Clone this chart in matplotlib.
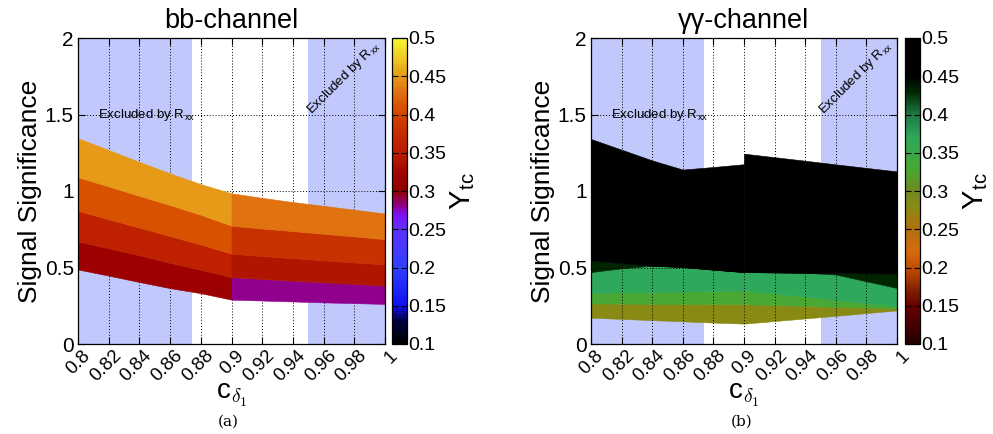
import numpy as np
import matplotlib
matplotlib.use('Agg')
import matplotlib.pyplot as plt
from matplotlib.colors import LinearSegmentedColormap, Normalize
from matplotlib.cm import ScalarMappable
from matplotlib.transforms import ScaledTranslation

plt.rcParams['font.family'] = ['Liberation Sans', 'DejaVu Sans']
plt.rcParams['mathtext.fontset'] = 'cm'

# ---- data ----
c_lo = [0.80, 0.82, 0.84, 0.86, 0.88, 0.90]
c_hi = [0.90, 0.92, 0.94, 0.96, 0.98, 1.00]

# bb-channel: significance boundaries between Y_tc bands
bb_lo_edges = [
    [0.487, 0.447, 0.405, 0.365, 0.332, 0.290],
    [0.670, 0.625, 0.580, 0.530, 0.485, 0.437],
    [0.870, 0.815, 0.760, 0.705, 0.650, 0.590],
    [1.090, 1.030, 0.968, 0.908, 0.845, 0.773],
    [1.345, 1.268, 1.190, 1.115, 1.045, 0.985],
]
bb_lo_ytc = [0.32, 0.36, 0.41, 0.45]
bb_hi_edges = [
    [0.290, 0.284, 0.278, 0.272, 0.267, 0.262],
    [0.437, 0.425, 0.414, 0.403, 0.392, 0.381],
    [0.590, 0.575, 0.561, 0.547, 0.533, 0.520],
    [0.773, 0.755, 0.738, 0.720, 0.703, 0.685],
    [0.985, 0.955, 0.928, 0.903, 0.878, 0.853],
]
bb_hi_ytc = [0.28, 0.34, 0.38, 0.43]

# gamma-gamma channel
gg_lo_edges = [
    [0.172, 0.164, 0.156, 0.148, 0.140, 0.133],
    [0.265, 0.264, 0.263, 0.262, 0.261, 0.260],
    [0.333, 0.337, 0.340, 0.343, 0.347, 0.350],
    [0.470, 0.495, 0.512, 0.503, 0.486, 0.470],
    [0.545, 0.528, 0.512, 0.503, 0.486, 0.470],
    [1.340, 1.270, 1.200, 1.140, 1.157, 1.175],
]
gg_hi_edges = [
    [0.133, 0.150, 0.167, 0.184, 0.202, 0.220],
    [0.260, 0.255, 0.249, 0.243, 0.238, 0.232],
    [0.350, 0.330, 0.310, 0.290, 0.268, 0.246],
    [0.470, 0.468, 0.466, 0.454, 0.410, 0.366],
    [0.470, 0.468, 0.466, 0.464, 0.462, 0.460],
    [1.244, 1.221, 1.198, 1.174, 1.151, 1.128],
]
gg_ytc = [0.28, 0.33, 0.37, 0.43, 0.48]

excl_left = (0.8, 0.874)
excl_right = (0.950, 1.0)

x_ticks = [0.8, 0.82, 0.84, 0.86, 0.88, 0.9, 0.92, 0.94, 0.96, 0.98, 1.0]
y_ticks = [0, 0.5, 1, 1.5, 2]
cb_ticks = [0.1, 0.15, 0.2, 0.25, 0.3, 0.35, 0.4, 0.45, 0.5]

# palettes
bb_nodes = [(0.10, '#000000'), (0.13, '#000040'), (0.15, '#1010f0'), (0.20, '#3040ff'),
            (0.25, '#6030ff'), (0.27, '#8010f0'), (0.28, '#900090'), (0.30, '#900000'),
            (0.32, '#9c0000'), (0.34, '#b01500'), (0.36, '#be2000'), (0.38, '#c83000'),
            (0.41, '#d85000'), (0.43, '#e07010'), (0.45, '#e69a18'), (0.50, '#f8f830')]
gg_nodes = [(0.10, '#200000'), (0.12, '#400000'), (0.15, '#680000'), (0.17, '#802000'),
            (0.19, '#b04000'), (0.22, '#d86a10'), (0.25, '#b07010'), (0.28, '#8a8a14'),
            (0.30, '#708a20'), (0.33, '#48a832'), (0.37, '#2ea85a'), (0.40, '#1e7a44'),
            (0.43, '#002800'), (0.45, '#000000'), (0.50, '#000000')]


def make_cmap(nodes, name):
    pos = [(v - 0.1) / 0.4 for v, _ in nodes]
    return LinearSegmentedColormap.from_list(name, list(zip(pos, [c for _, c in nodes])))


def fmt(v):
    return ('%g' % v)


def draw_panel(ax, cax, segments, cmap, title, grid_front):
    fig = ax.figure
    norm = Normalize(0.1, 0.5)
    ax.axvspan(*excl_left, color='#c0c8fc', lw=0, zorder=0)
    ax.axvspan(*excl_right, color='#c0c8fc', lw=0, zorder=0)
    for xs, edges, vals in segments:
        for i, v in enumerate(vals):
            col = cmap(norm(v))
            ax.fill_between(xs, edges[i], edges[i + 1], facecolor=col, edgecolor=col,
                            lw=0.4, zorder=2)
    gz = 3 if grid_front else 1
    for xv in x_ticks[1:-1]:
        ax.axvline(xv, color='k', ls=(0, (1, 2)), lw=0.7, zorder=gz)
    for yv in y_ticks[1:-1]:
        ax.axhline(yv, color='k', ls=(0, (1, 2)), lw=0.7, zorder=gz)

    ax.set_xlim(0.8, 1.0)
    ax.set_ylim(0, 2)
    ax.set_xticks(x_ticks)
    ax.set_xticklabels([])
    off = ScaledTranslation(16 / 100, -3 / 100, fig.dpi_scale_trans)
    for xv in x_ticks:
        ax.text(xv, 0, fmt(xv), rotation=45, ha='right', va='top', fontsize=13.5,
                transform=ax.get_xaxis_transform() + off)
    ax.set_yticks(y_ticks)
    ax.set_yticklabels([fmt(v) for v in y_ticks], fontsize=15)
    ax.tick_params(direction='in', top=True, right=True, length=5, width=0.8, pad=3)
    for s in ax.spines.values():
        s.set_linewidth(0.9)
        s.set_zorder(5)

    ax.set_title(title, fontsize=19.5, pad=7)
    ax.set_xlabel(r'c$_{\delta_1}$', fontsize=20, labelpad=24)
    ax.set_ylabel('Signal Significance', fontsize=19, labelpad=2)

    ax.text(0.8132, 1.477, r'Excluded by R$_\mathregular{xx}$', fontsize=9.5, zorder=4)
    ax.text(0.952, 1.50, r'Excluded by R$_\mathregular{xx}$', fontsize=9.5, rotation=45,
            rotation_mode='anchor', ha='left', va='baseline', zorder=4)

    cb = fig.colorbar(ScalarMappable(norm=norm, cmap=cmap), cax=cax)
    cb.set_ticks(cb_ticks)
    cb.set_ticklabels([fmt(v) for v in cb_ticks])
    cb.ax.tick_params(direction='in', length=4, width=0.8, labelsize=14, pad=1,
                      left=True, right=True)
    cb.outline.set_linewidth(0.9)
    cb.set_label(r'Y$_\mathregular{tc}$', fontsize=21, labelpad=1)


fig = plt.figure(figsize=(9.93, 4.34), dpi=100)
ax1 = fig.add_axes([78 / 993, 1 - 344 / 434, 307 / 993, 306 / 434])
cax1 = fig.add_axes([392 / 993, 1 - 344 / 434, 15 / 993, 306 / 434])
ax2 = fig.add_axes([591 / 993, 1 - 344 / 434, 306 / 993, 306 / 434])
cax2 = fig.add_axes([905 / 993, 1 - 344 / 434, 15 / 993, 306 / 434])

bb_cmap = make_cmap(bb_nodes, 'bb')
gg_cmap = make_cmap(gg_nodes, 'gg')

draw_panel(ax1, cax1, [(c_lo, bb_lo_edges, bb_lo_ytc), (c_hi, bb_hi_edges, bb_hi_ytc)],
           bb_cmap, 'bb-channel', grid_front=False)
draw_panel(ax2, cax2, [(c_lo, gg_lo_edges, gg_ytc), (c_hi, gg_hi_edges, gg_ytc)],
           gg_cmap, 'γγ-channel', grid_front=True)

fig.text(228 / 993, 0.028, '(a)', ha='center', va='center', fontsize=11, family='DejaVu Serif')
fig.text(742 / 993, 0.028, '(b)', ha='center', va='center', fontsize=11, family='DejaVu Serif')

fig.savefig('out.png', dpi=100)
